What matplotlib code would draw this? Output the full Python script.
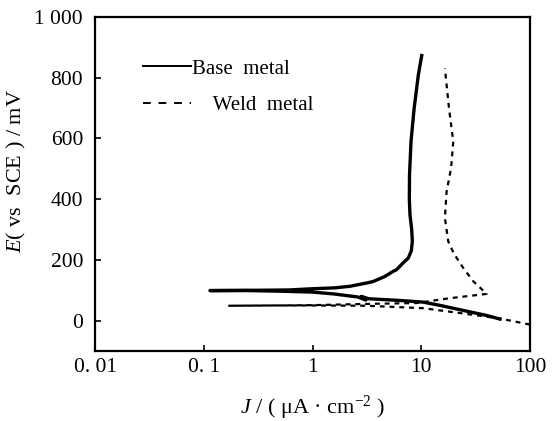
import matplotlib
matplotlib.use("Agg")
import matplotlib.pyplot as plt

plt.rcParams['font.family'] = ['Liberation Serif', 'DejaVu Serif']
plt.rcParams['mathtext.fontset'] = 'custom'
plt.rcParams['mathtext.rm'] = 'Liberation Serif'
plt.rcParams['mathtext.it'] = 'Liberation Serif:italic'

# Base metal polarization curve (cathodic -> anodic)
base_J = [53, 40, 22.7, 15, 10.4, 6, 3.3, 2.8, 3.1, 2.6, 1.56, 1.0, 0.5, 0.25, 0.114,
          0.3, 0.6, 1.0, 1.6, 2.2, 3.15, 3.62, 4.6, 5.5, 5.94, 6.8, 7.6, 8.1, 8.28, 8.17,
          7.88, 7.77, 7.8, 8.05, 8.6, 9.4, 10.1]
base_E = [5, 17, 36, 50, 61, 67, 72, 80, 68, 78, 88, 94, 97, 99, 99,
          100, 101, 105, 108, 113, 124, 129, 145, 162, 168, 190, 206, 230, 261, 300,
          348, 400, 480, 590, 699, 809, 873]

# Weld metal polarization curve (cathodic -> anodic)
weld_J = [100, 53, 22.7, 10.4, 3.15, 1.0, 0.4, 0.168,
          0.5, 1.0, 3.0, 9.1, 18.4, 40,
          30, 24.4, 20, 17.7, 16.5, 17.1, 18.8, 19.7, 18.0, 16.5]
weld_E = [-13, 7, 25, 41, 49, 50, 50, 49,
          50, 51, 55, 58, 74, 88,
          130, 173, 220, 261, 338, 425, 502, 590, 699, 831]

x_ticks = [0.01, 0.1, 1, 10, 100]
x_ticklabels = ['0. 01', '0. 1', '1', '10', '100']
y_ticks = [0, 200, 400, 600, 800, 1000]
y_ticklabels = ['0', '200', '400', '600', '800', '1 000']

fig = plt.figure(figsize=(5.52, 4.21), dpi=100)
ax = fig.add_axes([95/552, 1-351/421, (530-95)/552, (351-17)/421])

ax.plot(base_J, base_E, color='black', lw=2.4, solid_joinstyle='round',
        label='Base  metal')
ax.plot(weld_J, weld_E, color='black', lw=1.6, linestyle=(0, (2.2, 2.2)),
        label='    Weld  metal')

ax.set_xscale('log')
ax.set_xlim(0.01, 100)
ax.set_ylim(-100, 1000)
ax.set_xticks(x_ticks)
ax.set_xticklabels(x_ticklabels)
ax.set_yticks(y_ticks)
ax.set_yticklabels(y_ticklabels)
ax.minorticks_off()
ax.tick_params(direction='in', length=4, width=1.2, labelsize=15.5)
ax.tick_params(axis='y', pad=8.6)
ax.tick_params(axis='x', pad=5)
for s in ax.spines.values():
    s.set_linewidth(1.6)

ax.set_ylabel('$E$( vs  SCE ) / mV', fontsize=16)
ax.yaxis.set_label_coords(-0.153, 0.54)
ax.set_xlabel('$J$ / ( μA · cm$^{-2}$ )', fontsize=16, labelpad=12)

leg = ax.legend(loc='upper left', bbox_to_anchor=(0.110, 0.874), frameon=False,
                fontsize=15, handlelength=2.3, handletextpad=0.05, labelspacing=0.8,
                borderpad=0, borderaxespad=0)
for h in leg.get_lines():
    h.set_linewidth(1.4)
leg.get_lines()[1].set_linestyle((0, (4, 4)))

fig.savefig('out.png', dpi=100)
